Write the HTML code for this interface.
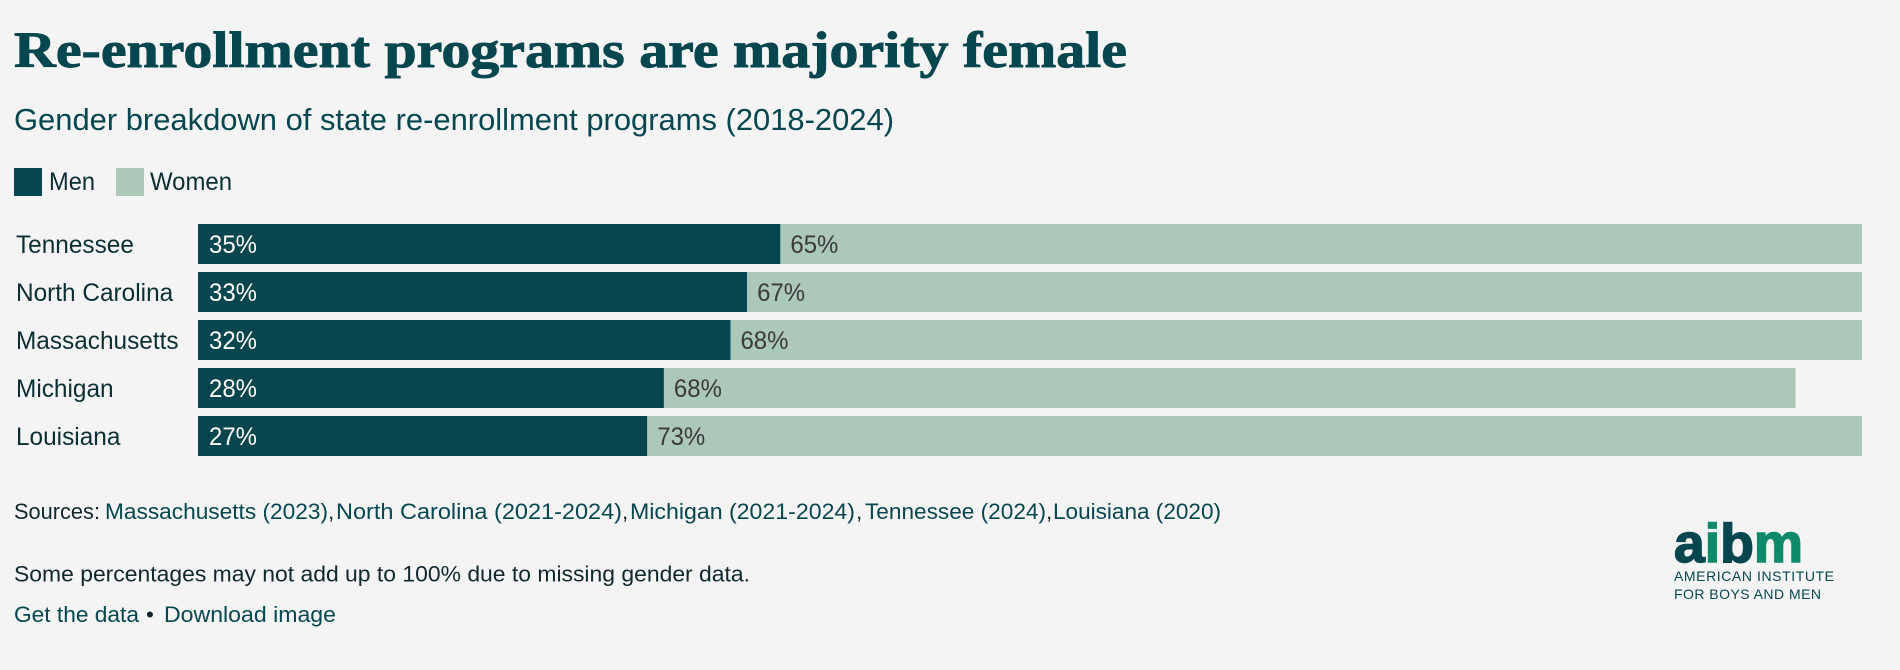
<!DOCTYPE html>
<html lang="en">
<head>
<meta charset="utf-8">
<title>Re-enrollment programs are majority female</title>
<style>
  html, body { margin: 0; padding: 0; background: #f4f4f4; }
  body { width: 1900px; height: 670px; overflow: hidden; }
  svg { display: block; }
  text { font-family: "Liberation Sans", sans-serif; }
  .title { font-family: "Liberation Serif", serif; font-weight: 700; font-size: 51px; fill: #06464f; stroke: #06464f; stroke-width: 0.9px; }
  .sub { font-size: 31px; fill: #06464f; }
  .legend-text { font-size: 25px; fill: #0b2e33; }
  .state { font-size: 25px; fill: #0b2e33; }
  .val-men { font-size: 25px; fill: #ffffff; }
  .val-women { font-size: 25px; fill: #3a3a3a; }
  .foot { font-size: 22.5px; fill: #10282c; }
  .link { font-size: 22.5px; fill: #06464f; cursor: pointer; }
  .logo-mark { font-weight: 700; font-size: 55px; stroke-width: 1.6px; }
  .logo-cap { font-size: 14px; fill: #06464f; }
</style>
</head>
<body>
<svg id="chart" xmlns="http://www.w3.org/2000/svg" width="1900" height="670" viewBox="0 0 1900 670">
  <rect x="0" y="0" width="1900" height="670" fill="#f4f4f4"/>

  <text class="title" x="14" y="67" textLength="1113" lengthAdjust="spacingAndGlyphs">Re-enrollment programs are majority female</text>
  <text class="sub" x="14" y="130" textLength="880" lengthAdjust="spacingAndGlyphs">Gender breakdown of state re-enrollment programs (2018-2024)</text>

  <g>
    <rect x="14" y="168" width="28" height="28" fill="#06464f"/>
    <text class="legend-text" x="49" y="190" textLength="46" lengthAdjust="spacingAndGlyphs">Men</text>
    <rect x="116" y="168" width="28" height="28" fill="#acc8b8"/>
    <text class="legend-text" x="150" y="190" textLength="82" lengthAdjust="spacingAndGlyphs">Women</text>
  </g>

  <g id="rows"></g>

  <g>
    <text class="foot" x="14" y="519" textLength="86" lengthAdjust="spacingAndGlyphs">Sources:</text>
    <text class="link" x="105" y="519" textLength="223" lengthAdjust="spacingAndGlyphs">Massachusetts (2023)</text>
    <text class="foot" x="328" y="519">,</text>
    <text class="link" x="336" y="519" textLength="286" lengthAdjust="spacingAndGlyphs">North Carolina (2021-2024)</text>
    <text class="foot" x="622" y="519">,</text>
    <text class="link" x="630" y="519" textLength="225" lengthAdjust="spacingAndGlyphs">Michigan (2021-2024)</text>
    <text class="foot" x="856" y="519">,</text>
    <text class="link" x="865" y="519" textLength="181" lengthAdjust="spacingAndGlyphs">Tennessee (2024)</text>
    <text class="foot" x="1046" y="519">,</text>
    <text class="link" x="1053" y="519" textLength="168" lengthAdjust="spacingAndGlyphs">Louisiana (2020)</text>
  </g>

  <text class="foot" x="14" y="581.5" textLength="736" lengthAdjust="spacingAndGlyphs">Some percentages may not add up to 100% due to missing gender data.</text>

  <g>
    <text class="link" x="14" y="622" textLength="125" lengthAdjust="spacingAndGlyphs">Get the data</text>
    <text class="foot" x="146" y="622">•</text>
    <text class="link" x="164" y="622" textLength="172" lengthAdjust="spacingAndGlyphs">Download image</text>
  </g>

  <g>
    <text class="logo-mark" x="1674" y="562" textLength="129" lengthAdjust="spacingAndGlyphs"><tspan fill="#06464f" stroke="#06464f">a</tspan><tspan fill="#0e8a68" stroke="#0e8a68">i</tspan><tspan fill="#06464f" stroke="#06464f">b</tspan><tspan fill="#0e8a68" stroke="#0e8a68">m</tspan></text>
    <text class="logo-cap" x="1674" y="581" textLength="160" lengthAdjust="spacing">AMERICAN INSTITUTE</text>
    <text class="logo-cap" x="1674" y="599" textLength="147" lengthAdjust="spacing">FOR BOYS AND MEN</text>
  </g>
</svg>

<script>
const states = ["Tennessee", "North Carolina", "Massachusetts", "Michigan", "Louisiana"];
const menShare = [35, 33, 32, 28, 27];
const womenShare = [65, 67, 68, 68, 73];

const NS = "http://www.w3.org/2000/svg";
const rows = document.getElementById("rows");

function xScale(v) { return 198 + v * 16.64; }
function rowTop(i) { return 224 + i * 48; }

function makeRect(x, y, w, h, fill) {
  const r = document.createElementNS(NS, "rect");
  r.setAttribute("x", x);
  r.setAttribute("y", y);
  r.setAttribute("width", w);
  r.setAttribute("height", h);
  r.setAttribute("fill", fill);
  return r;
}

function makeText(cls, x, y, str) {
  const t = document.createElementNS(NS, "text");
  t.setAttribute("class", cls);
  t.setAttribute("x", x);
  t.setAttribute("y", y);
  t.textContent = str;
  return t;
}

function squeeze(t, k) {
  t.setAttribute("textLength", (t.getComputedTextLength() * k).toFixed(1));
  t.setAttribute("lengthAdjust", "spacingAndGlyphs");
}

states.forEach(function (state, i) {
  const top = rowTop(i);
  const base = top + 29;
  const slug = state.toLowerCase().replace(/\s+/g, "-");
  const xMen = xScale(menShare[i]);
  const xEnd = xScale(menShare[i] + womenShare[i]);

  const g = document.createElementNS(NS, "g");
  
  

  const label = makeText("state", 16, base, state);
  
  
  g.appendChild(label);

  const barMen = makeRect(xScale(0), top, xMen - xScale(0), 40, "#06464f");
  
  
  g.appendChild(barMen);

  const barWomen = makeRect(xMen, top, xEnd - xMen, 40, "#acc8b8");
  
  
  g.appendChild(barWomen);

  const valMen = makeText("val-men", xScale(0) + 11, base, menShare[i] + "%");
  
  
  g.appendChild(valMen);

  const valWomen = makeText("val-women", xMen + 10, base, womenShare[i] + "%");
  
  
  g.appendChild(valWomen);

  rows.appendChild(g);

  squeeze(label, 0.975);
  squeeze(valMen, 0.96);
  squeeze(valWomen, 0.96);
});
</script>
</body>
</html>
